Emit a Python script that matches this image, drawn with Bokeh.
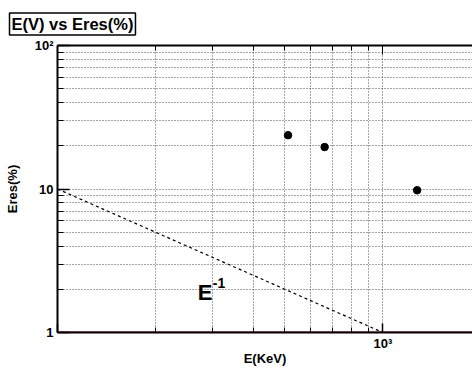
from bokeh.plotting import figure
from bokeh.models import FixedTicker, Span, Range1d, LogAxis, Title
from bokeh.embed import file_html
from bokeh.resources import INLINE
from bokeh.core.properties import value

# data points (E in keV, energy resolution in %)
energy_kev = [511, 662, 1274]
eres_pct = [23.7, 19.6, 9.8]

# E^-1 reference curve
ref_energy = [100, 1000]
ref_eres = [10, 1]

x_major = [100, 1000]
x_minor = [200, 300, 400, 500, 600, 700, 800, 900, 2000]
y_major = [1, 10, 100]
y_minor = [2, 3, 4, 5, 6, 7, 8, 9, 20, 30, 40, 50, 60, 70, 80, 90]
x_labels = {100: "", 1000: "10³"}
y_labels = {1: "1", 10: "10", 100: "10²"}
top_labels = {100: "", 1000: ""}

FONT = "Liberation Sans"

p = figure(width=472, height=369, x_axis_type="log", y_axis_type="log",
           x_range=Range1d(100, 1885), y_range=Range1d(1, 100),
           output_backend="svg", toolbar_location=None,
           min_border_left=57, min_border_right=0, min_border_top=44, min_border_bottom=37,
           background_fill_color="white", border_fill_color="white")
p.outline_line_color = None

xt = FixedTicker(ticks=x_major, minor_ticks=x_minor)
yt = FixedTicker(ticks=y_major, minor_ticks=y_minor)

xa = p.xaxis[0]
xa.ticker = xt
xa.major_label_overrides = x_labels
ya = p.yaxis[0]
ya.ticker = yt
ya.major_label_overrides = y_labels

for ax, tin, mtin in ((xa, 9, 5), (ya, 12, 6)):
    ax.axis_line_width = 2
    ax.axis_line_color = "black"
    ax.major_tick_in = tin
    ax.major_tick_out = 0
    ax.minor_tick_in = mtin
    ax.minor_tick_out = 0
    ax.major_tick_line_width = 1.5
    ax.major_label_text_font = FONT
    ax.major_label_text_font_style = "bold"
    ax.major_label_text_font_size = "13px"
    ax.major_label_text_color = "black"
    ax.axis_label_text_font = FONT
    ax.axis_label_text_font_style = "bold"
    ax.axis_label_text_font_size = "13px"
    ax.axis_label_text_color = "black"

xa.axis_label = "E(KeV)"
xa.major_label_standoff = 3
xa.axis_label_standoff = -3
ya.axis_label = "Eres(%)"
ya.major_label_standoff = 4
ya.axis_label_standoff = 12

top = LogAxis(ticker=xt, major_label_overrides=top_labels, major_label_standoff=0,
              major_label_text_font_size="6px",
              major_tick_in=9, major_tick_out=0, minor_tick_in=5, minor_tick_out=0,
              axis_line_width=2)
p.add_layout(top, "above")

for g in (p.xgrid[0], p.ygrid[0]):
    g.grid_line_color = "black"
    g.grid_line_alpha = 0.7
    g.grid_line_dash = "1 2"
    g.minor_grid_line_color = "black"
    g.minor_grid_line_alpha = 0.7
    g.minor_grid_line_dash = "1 2"
p.xgrid[0].ticker = xt
p.ygrid[0].ticker = yt

p.add_layout(Span(location=y_major[0], dimension="width", line_color="#d88080",
                  line_width=3, level="underlay"))

p.line(ref_energy, ref_eres, line_color="black", line_dash="3 3", line_width=1.2)
p.scatter(energy_kev, eres_pct, size=7.5, color="black")

p.text(x=[270], y=[1.9], text=["E"], text_font=value(FONT), text_font_style="bold",
       text_font_size="22px", text_baseline="alphabetic", text_color="black")
p.text(x=[300], y=[2.22], text=["-1"], text_font=value(FONT), text_font_style="bold",
       text_font_size="14px", text_baseline="alphabetic", text_color="black")

# boxed title in the top panel
title = Title(text="E(V) vs Eres(%)", align="left", offset=-48, standoff=21,
              text_font=FONT, text_font_style="bold", text_font_size="16.5px",
              text_color="black", padding=2, border_line_color="black",
              border_line_width=1.5, background_fill_color="white")
p.add_layout(title, "above")

open("out.html", "w").write(file_html(p, INLINE))
